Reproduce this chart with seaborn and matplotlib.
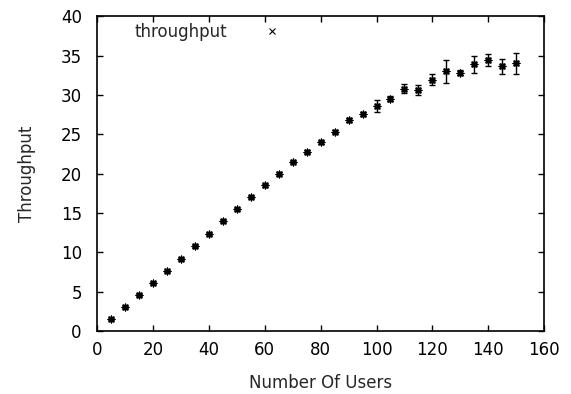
import matplotlib
matplotlib.use("Agg")
import matplotlib.pyplot as plt
from matplotlib.lines import Line2D
import seaborn as sns
import pandas as pd

# Number of concurrent users and measured throughput (mean and spread)
users = [5, 10, 15, 20, 25, 30, 35, 40, 45, 50,
         55, 60, 65, 70, 75, 80, 85, 90, 95, 100,
         105, 110, 115, 120, 125, 130, 135, 140, 145, 150]
throughput = [1.57, 3.09, 4.6, 6.14, 7.66, 9.14, 10.75, 12.36, 14.0, 15.5,
              17.05, 18.5, 20.0, 21.5, 22.8, 24.0, 25.3, 26.8, 27.6, 28.6,
              29.5, 30.8, 30.6, 31.9, 33.0, 32.8, 33.9, 34.45, 33.65, 34.0]
spread = [0.12, 0.12, 0.12, 0.12, 0.12, 0.12, 0.12, 0.15, 0.15, 0.15,
          0.15, 0.15, 0.15, 0.15, 0.2, 0.2, 0.2, 0.2, 0.25, 0.75,
          0.3, 0.55, 0.6, 0.7, 1.45, 0.3, 1.1, 0.75, 0.95, 1.3]

x_ticks = [0, 20, 40, 60, 80, 100, 120, 140, 160]
y_ticks = [0, 5, 10, 15, 20, 25, 30, 35, 40]

df = pd.DataFrame({"users": users, "throughput": throughput, "spread": spread})

sns.set_style("ticks")
plt.rcParams["font.family"] = ["DejaVu Sans"]

fig = plt.figure(figsize=(5.71, 3.94), dpi=100)
ax = fig.add_axes([0.170, 0.160, 0.783, 0.799])

ax.errorbar(df["users"], df["throughput"], yerr=df["spread"], fmt="none",
            ecolor="black", elinewidth=1.0, capsize=2.5, capthick=1.0, zorder=2)
sns.scatterplot(data=df, x="users", y="throughput", ax=ax, marker=(8, 2, 0),
                s=22, color="black", edgecolor="black", linewidth=1.1,
                legend=False, zorder=3)

ax.set_xlim(0, 160)
ax.set_ylim(0, 40)
ax.set_xticks(x_ticks)
ax.set_yticks(y_ticks)
ax.tick_params(direction="in", length=4, width=1, top=True, right=True,
               labelsize=12, colors="black")
ax.tick_params(axis="x", pad=7)
ax.tick_params(axis="y", pad=11)
for side in ax.spines.values():
    side.set_visible(True)
    side.set_linewidth(1.2)
    side.set_color("black")

ax.set_xlabel("Number Of Users", fontsize=12, labelpad=11)
ax.set_ylabel("Throughput", fontsize=12, labelpad=18)

handle = Line2D([], [], linestyle="none", marker="x", markersize=4,
                color="black", markeredgewidth=0.8)
ax.legend([handle], ["throughput"], loc="upper left",
          bbox_to_anchor=(0.05, 1.025), frameon=False, fontsize=12,
          markerfirst=False, handlelength=4.4, handletextpad=0.5)

fig.savefig("out.png", dpi=100)
